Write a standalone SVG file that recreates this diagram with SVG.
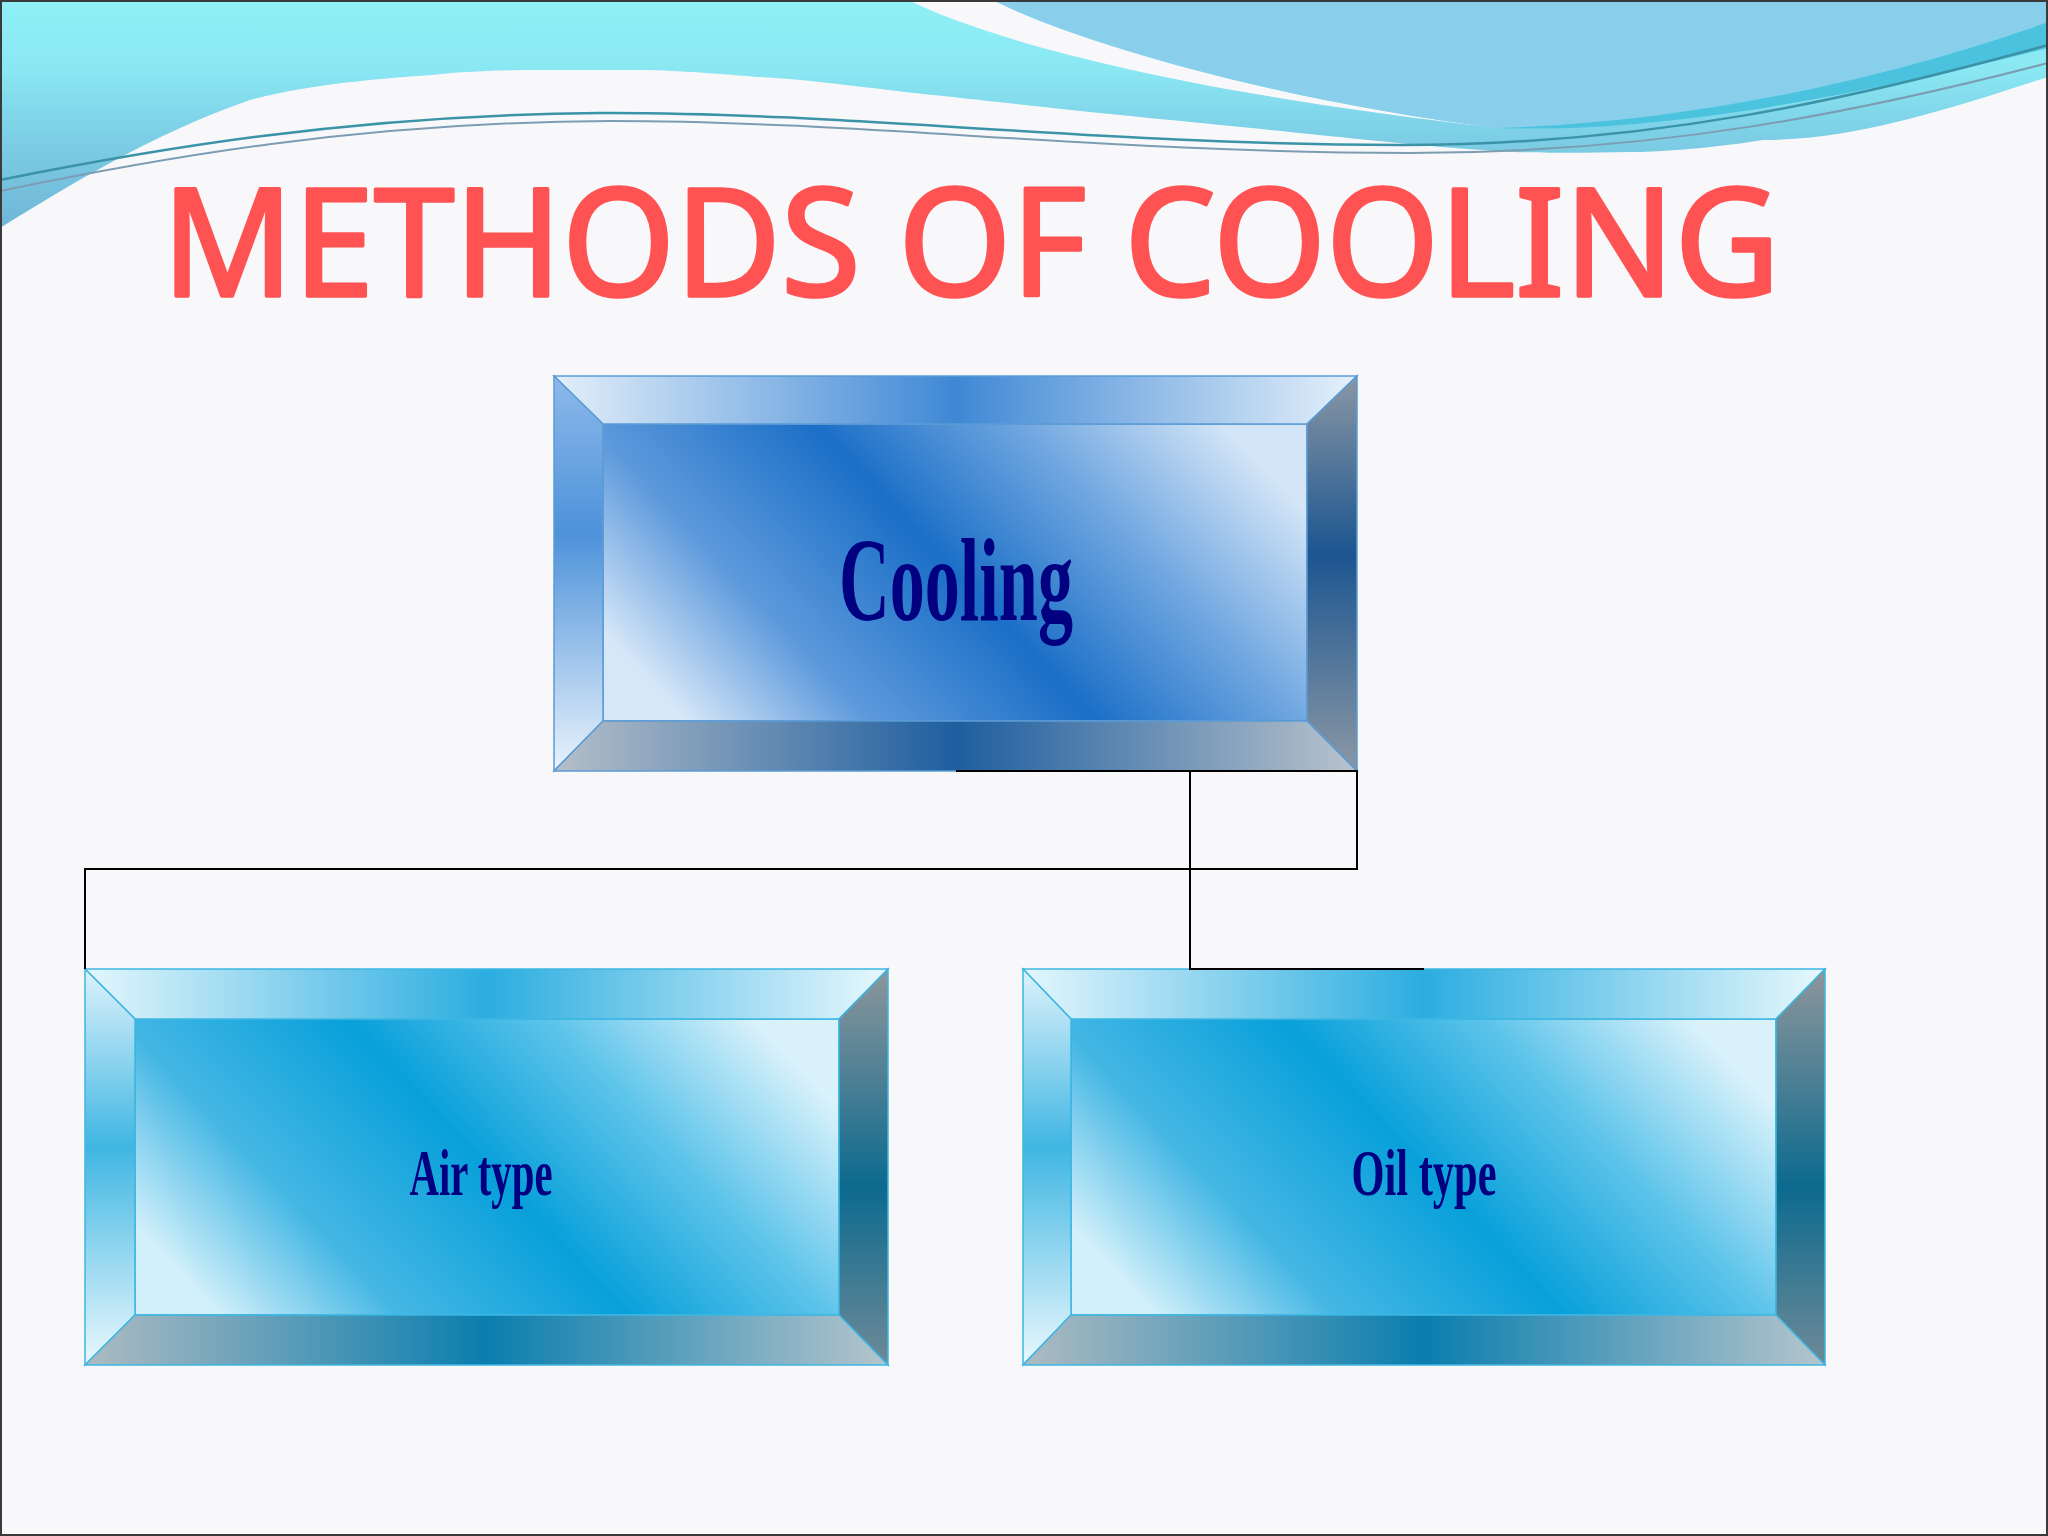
<svg xmlns="http://www.w3.org/2000/svg" width="2048" height="1536" viewBox="0 0 2048 1536">
<defs>
  <linearGradient id="bgWave" gradientUnits="userSpaceOnUse" x1="0" y1="0" x2="0" y2="225">
    <stop offset="0" stop-color="#8FF0F6"/>
    <stop offset="0.3" stop-color="#8AE8F3"/>
    <stop offset="0.6" stop-color="#7DCFE6"/>
    <stop offset="1" stop-color="#70B6D7"/>
  </linearGradient>
  <!-- Cooling (blue) palette -->
  <linearGradient id="bInner" x1="0" y1="0.7" x2="1" y2="0.3">
    <stop offset="0" stop-color="#D6E7F8"/>
    <stop offset="0.22" stop-color="#5E9ADC"/>
    <stop offset="0.5" stop-color="#1B6FC7"/>
    <stop offset="0.75" stop-color="#6FA6E0"/>
    <stop offset="1" stop-color="#D3E5F7"/>
  </linearGradient>
  <linearGradient id="bTop" x1="0" y1="0" x2="1" y2="0">
    <stop offset="0" stop-color="#E3EFFA"/>
    <stop offset="0.5" stop-color="#3F88D5"/>
    <stop offset="1" stop-color="#E6F1FB"/>
  </linearGradient>
  <linearGradient id="bLeft" x1="0" y1="0" x2="0" y2="1">
    <stop offset="0" stop-color="#8DB9EA"/>
    <stop offset="0.4" stop-color="#4D92DA"/>
    <stop offset="1" stop-color="#EAF3FC"/>
  </linearGradient>
  <linearGradient id="bRight" x1="0" y1="0" x2="0" y2="1">
    <stop offset="0" stop-color="#8A97A4"/>
    <stop offset="0.45" stop-color="#1C5590"/>
    <stop offset="1" stop-color="#8B98A5"/>
  </linearGradient>
  <linearGradient id="bBottom" x1="0" y1="0" x2="1" y2="0">
    <stop offset="0" stop-color="#B5BFC9"/>
    <stop offset="0.5" stop-color="#1E5E9F"/>
    <stop offset="1" stop-color="#B9C3CC"/>
  </linearGradient>
  <!-- Air/Oil (cyan) palette -->
  <linearGradient id="cInner" x1="0" y1="0.7" x2="1" y2="0.3">
    <stop offset="0" stop-color="#D2F0FA"/>
    <stop offset="0.22" stop-color="#45B7E4"/>
    <stop offset="0.5" stop-color="#08A0DA"/>
    <stop offset="0.75" stop-color="#5EC4EA"/>
    <stop offset="1" stop-color="#DAF2FB"/>
  </linearGradient>
  <linearGradient id="cTop" x1="0" y1="0" x2="1" y2="0">
    <stop offset="0" stop-color="#E4F6FC"/>
    <stop offset="0.5" stop-color="#2BADE0"/>
    <stop offset="1" stop-color="#E8F8FD"/>
  </linearGradient>
  <linearGradient id="cLeft" x1="0" y1="0" x2="0" y2="1">
    <stop offset="0" stop-color="#DDF2FB"/>
    <stop offset="0.45" stop-color="#40B6E3"/>
    <stop offset="1" stop-color="#EAF8FD"/>
  </linearGradient>
  <linearGradient id="cRight" x1="0" y1="0" x2="0" y2="1">
    <stop offset="0" stop-color="#8E969C"/>
    <stop offset="0.55" stop-color="#0C6A8E"/>
    <stop offset="1" stop-color="#6E8A98"/>
  </linearGradient>
  <linearGradient id="cBottom" x1="0" y1="0" x2="1" y2="0">
    <stop offset="0" stop-color="#AEBBC2"/>
    <stop offset="0.5" stop-color="#0A7EAE"/>
    <stop offset="1" stop-color="#B5C5CC"/>
  </linearGradient>
</defs>
<style>
  .label { font-family: "Liberation Serif", "Times New Roman", serif; font-weight: bold; fill: #000080; text-anchor: middle; }
  .title { font-family: "Comic Sans MS", "Noto Sans", sans-serif; font-weight: normal; fill: #FF5252; stroke: #FF5252; stroke-width: 3.5; stroke-linejoin: round; stroke-linecap: round; }
  .edge { stroke-width: 1.5; stroke-linejoin: miter; }
  .blue .edge { stroke: #5B9BD5; }
  .cyan .edge { stroke: #3DB6E2; }
  .blue .inner { fill: url(#bInner); }
  .blue .top { fill: url(#bTop); }
  .blue .left { fill: url(#bLeft); }
  .blue .right { fill: url(#bRight); }
  .blue .bottom { fill: url(#bBottom); }
  .cyan .inner { fill: url(#cInner); }
  .cyan .top { fill: url(#cTop); }
  .cyan .left { fill: url(#cLeft); }
  .cyan .right { fill: url(#cRight); }
  .cyan .bottom { fill: url(#cBottom); }
  .conn { fill: none; stroke: #000000; stroke-width: 2; }
</style>

<rect x="0" y="0" width="2048" height="1536" fill="#F8F8FB"/>

<!-- header waves -->
<g id="header">
  <path d="M0,0 H2048 V77 C1960,105 1860,140 1763,140 C1700,150 1650,152 1632,152 C1590,153 1540,153 1515,152 C1440,148 1380,141 1241,127 C1180,121 1120,115 1071,110 C1000,102 914,93 914,93 C840,84 790,78 757,77 C700,72 660,70 640,70 L535,70 C490,70 460,72 431,75 C330,82 290,90 250,100 C150,135 70,185 0,228 Z" fill="url(#bgWave)"/>
  <path d="M908,0 C1000,45 1200,95 1500,128 C1300,105 1080,45 993,0 Z" fill="#F8F8FB"/>
  <path d="M993,0 H2048 V22 C1900,75 1700,122 1500,128 C1300,105 1080,45 993,0 Z" fill="#89CFEB"/>
  <path d="M2048,22 C1900,75 1700,122 1500,128 C1660,134 1860,95 2048,48 Z" fill="#4BC3DF"/>
  <path d="M0,180 C150,150 350,115 600,113 C850,112 1100,145 1400,145 C1650,145 1850,100 2048,45" fill="none" stroke="#3B93A8" stroke-width="2.5"/>
  <path d="M0,191 C160,158 360,122 610,121 C860,121 1110,153 1410,153 C1660,153 1860,112 2048,63" fill="none" stroke="#7C9CB2" stroke-width="2"/>
</g>

<text id="title" class="title" x="162" y="296" font-size="150" textLength="1618" lengthAdjust="spacingAndGlyphs">METHODS OF COOLING</text>

<g id="node-cooling" class="blue" transform="translate(554,376)">
  <polygon class="inner edge" points="49,48 753,48 753,345 49,345"/>
  <polygon class="top edge" points="0,0 803,0 753,48 49,48"/>
  <polygon class="left edge" points="0,0 49,48 49,345 0,395"/>
  <polygon class="right edge" points="803,0 803,395 753,345 753,48"/>
  <polygon class="bottom edge" points="0,395 49,345 753,345 803,395"/>
  <text class="label" x="402" y="244" font-size="118" textLength="234" lengthAdjust="spacingAndGlyphs">Cooling</text>
</g>

<g id="node-air" class="cyan" transform="translate(85,969)">
  <polygon class="inner edge" points="50,50 754,50 754,346 50,346"/>
  <polygon class="top edge" points="0,0 803,0 754,50 50,50"/>
  <polygon class="left edge" points="0,0 50,50 50,346 0,396"/>
  <polygon class="right edge" points="803,0 803,396 754,346 754,50"/>
  <polygon class="bottom edge" points="0,396 50,346 754,346 803,396"/>
  <text class="label" x="396" y="226" font-size="66" textLength="143" lengthAdjust="spacingAndGlyphs">Air type</text>
</g>

<g id="node-oil" class="cyan" transform="translate(1023,969)">
  <polygon class="inner edge" points="48,50 753,50 753,346 48,346"/>
  <polygon class="top edge" points="0,0 802,0 753,50 48,50"/>
  <polygon class="left edge" points="0,0 48,50 48,346 0,396"/>
  <polygon class="right edge" points="802,0 802,396 753,346 753,50"/>
  <polygon class="bottom edge" points="0,396 48,346 753,346 802,396"/>
  <text class="label" x="401" y="226" font-size="66" textLength="145" lengthAdjust="spacingAndGlyphs">Oil type</text>
</g>

<g id="connectors">
  <path class="conn" d="M956,771 H1357 V869 H85 V969"/>
  <path class="conn" d="M1190,771 V969 H1424"/>
</g>

<rect x="1" y="1" width="2046" height="1534" fill="none" stroke="#3A3A3A" stroke-width="2"/>
</svg>
